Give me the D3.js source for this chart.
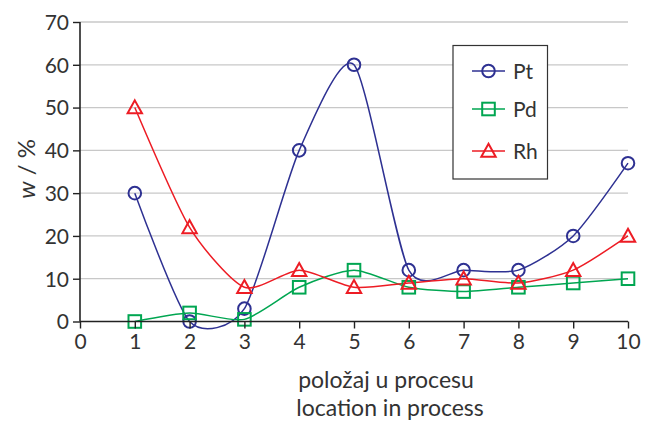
<!DOCTYPE html>
<html><head><meta charset="utf-8">
<script src="https://cdn.jsdelivr.net/npm/d3@7"></script>
<style>body{margin:0;background:#fff}svg{display:block}</style>
</head><body>
<svg id="c" width="648" height="421"></svg>
<script>
const positions = [1,2,3,4,5,6,7,8,9,10];
const ptValues = [30, 0, 3, 40, 60, 12, 12, 12, 20, 37];
const pdValues = [0, 2, 0.5, 8, 12, 8, 7, 8, 9, 10];
const rhValues = [50, 22, 8, 12, 8, 9, 10, 9, 12, 20];
const seriesNames = ["Pt","Pd","Rh"];
const xTicks = [0,1,2,3,4,5,6,7,8,9,10];
const yTicks = [0,10,20,30,40,50,60,70];

const svg = d3.select("#c");
const font = "Lato, 'Open Sans', sans-serif";
const x = d3.scaleLinear().domain([0,10]).range([80,628]);
const y = d3.scaleLinear().domain([0,70]).range([321.5,22]);

// gridlines
svg.append("g").selectAll("line").data(yTicks.filter(d=>d>0)).join("line")
  .attr("x1",x(0)).attr("x2",x(10)).attr("y1",d=>y(d)).attr("y2",d=>y(d))
  .attr("stroke","#c8c8c8").attr("stroke-width",1.3);

const series = [
  {name:"Pt", values:ptValues, color:"#2e3192", marker:"circle"},
  {name:"Pd", values:pdValues, color:"#00a651", marker:"square"},
  {name:"Rh", values:rhValues, color:"#ed1c24", marker:"triangle"}
];

const line = d3.line().x(d=>x(d[0])).y(d=>y(d[1])).curve(d3.curveCardinal.tension(0.3));

function drawMarker(g, type, cx, cy, color){
  if(type==="circle"){
    g.append("circle").attr("cx",cx).attr("cy",cy).attr("r",6.3)
      .attr("fill","none").attr("stroke",color).attr("stroke-width",2);
  } else if(type==="square"){
    g.append("rect").attr("x",cx-6.3).attr("y",cy-6.3).attr("width",12.6).attr("height",12.6)
      .attr("fill","none").attr("stroke",color).attr("stroke-width",2);
  } else {
    const s=7.2;
    g.append("path").attr("d",`M${cx},${cy-s}L${cx+s},${cy+s*0.8}L${cx-s},${cy+s*0.8}Z`)
      .attr("fill","none").attr("stroke",color).attr("stroke-width",2);
  }
}

series.forEach(s=>{
  const pts = positions.map((p,i)=>[p,s.values[i]]);
  svg.append("path").attr("d",line(pts)).attr("fill","none")
    .attr("stroke",s.color).attr("stroke-width",1.5);
});
series.forEach(s=>{
  const g = svg.append("g");
  positions.forEach((p,i)=>drawMarker(g,s.marker,x(p),y(s.values[i]),s.color));
});

// axes
const yAxis = svg.append("g").attr("transform",`translate(${x(0)},0)`)
  .call(d3.axisLeft(y).tickValues(yTicks).tickSize(7).tickPadding(4));
const xAxis = svg.append("g").attr("transform",`translate(0,${y(0)})`)
  .call(d3.axisBottom(x).tickValues(xTicks).tickSize(7).tickPadding(6));
[yAxis,xAxis].forEach(a=>{
  a.select(".domain").attr("stroke","#222").attr("stroke-width",1.6);
  a.selectAll(".tick line").attr("stroke","#222").attr("stroke-width",1.4);
  a.selectAll(".tick text").attr("font-family",font).attr("font-size",21).attr("fill","#333");
});
yAxis.select(".domain").attr("d",`M0,${y(0)}V${y(70)}`);
yAxis.selectAll(".tick text").attr("dy","0.35em");
xAxis.select(".domain").attr("d",`M${x(0)},0H${x(10)}`);

// axis titles
svg.append("text").attr("transform","translate(35,169) rotate(-90)")
  .attr("text-anchor","middle").attr("font-family",font).attr("font-size",24).attr("fill","#333")
  .html('<tspan font-style="italic">w</tspan> / %');
svg.append("text").attr("x",386).attr("y",388).attr("text-anchor","middle")
  .attr("font-family",font).attr("font-size",23).attr("fill","#333").text("položaj u procesu");
svg.append("text").attr("x",390).attr("y",416).attr("text-anchor","middle")
  .attr("font-family",font).attr("font-size",23).attr("fill","#333").text("location in process");

// legend
const lg = svg.append("g");
lg.append("rect").attr("x",453).attr("y",45.5).attr("width",94.5).attr("height",133.5)
  .attr("fill","#fff").attr("stroke","#333").attr("stroke-width",1.2);
const rowY = [71,109,151];
series.forEach((s,i)=>{
  lg.append("line").attr("x1",472).attr("x2",505).attr("y1",rowY[i]).attr("y2",rowY[i])
    .attr("stroke",s.color).attr("stroke-width",1.5);
  drawMarker(lg,s.marker,488.5,rowY[i],s.color);
  lg.append("text").attr("x",513).attr("y",rowY[i]).attr("dy","0.36em")
    .attr("font-family",font).attr("font-size",21).attr("fill","#333").text(seriesNames[i]);
});
</script>
</body></html>
